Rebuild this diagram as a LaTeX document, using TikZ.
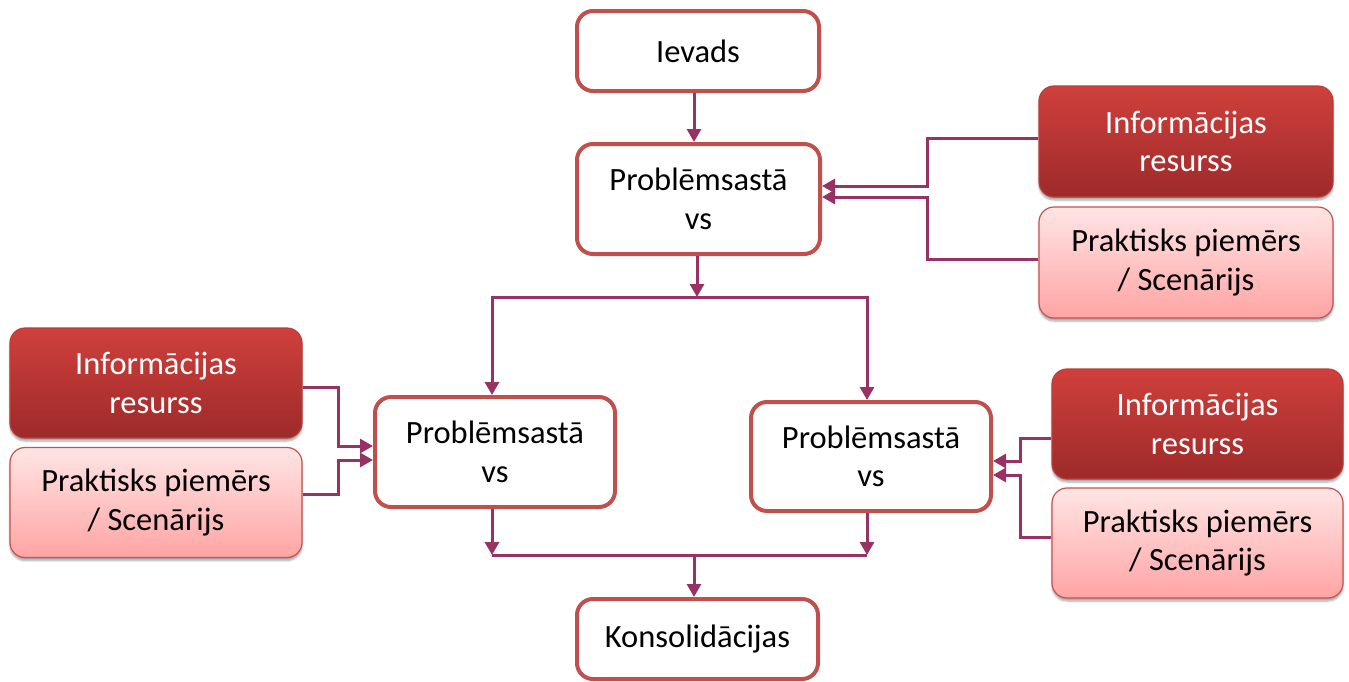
\documentclass[tikz,border=0pt]{standalone}
\usepackage{fontspec}
\setmainfont{Carlito}
\usetikzlibrary{arrows.meta,shadows.blur,calc}

\definecolor{frameRed}{RGB}{192,80,77}
\definecolor{linkPurple}{RGB}{153,50,100}
\definecolor{infoTop}{RGB}{207,64,60}
\definecolor{infoBottom}{RGB}{157,42,42}
\definecolor{infoEdge}{RGB}{185,62,58}
\definecolor{caseTop}{RGB}{255,229,229}
\definecolor{caseBottom}{RGB}{255,164,164}
\definecolor{caseEdge}{RGB}{200,82,78}

\tikzset{
  boxtext/.style={font=\fontsize{32.5}{38.5}\selectfont, align=center, inner sep=0pt},
  flowbox/.style={boxtext, draw=frameRed, line width=4pt, fill=white,
    rounded corners=16pt, text=black},
  infobox/.style={boxtext, draw=infoEdge, line width=1.2pt, rounded corners=15pt,
    top color=infoTop, bottom color=infoBottom, text=white,
    minimum width=292pt, minimum height=110pt,
    blur shadow={shadow xshift=0pt, shadow yshift=-3pt, shadow blur steps=6, shadow opacity=35}},
  casebox/.style={boxtext, draw=caseEdge, line width=1.2pt, rounded corners=15pt,
    top color=caseTop, bottom color=caseBottom, text=black,
    minimum width=292pt, minimum height=110pt,
    blur shadow={shadow xshift=0pt, shadow yshift=-3pt, shadow blur steps=6, shadow opacity=35}},
  link/.style={draw=linkPurple, line width=3pt},
  conn/.style={link, -{Triangle[length=13pt, width=14pt]}},
}

\begin{document}
\begin{tikzpicture}[x=1pt, y=-1pt]
\useasboundingbox (0,0) rectangle (1349,681);

% main flow boxes
\node[flowbox, minimum width=242pt, minimum height=80pt]  (iev) at (698,51)    {Ievads};
\node[flowbox, minimum width=243pt, minimum height=110pt] (p1)  at (698.5,199) {Problēmsastā\\vs};
\node[flowbox, minimum width=240pt, minimum height=110pt] (lp)  at (495,452)   {Problēmsastā\\vs};
\node[flowbox, minimum width=240pt, minimum height=109pt] (rp)  at (871,456.5) {Problēmsastā\\vs};
\node[flowbox, minimum width=241pt, minimum height=80pt]  (kon) at (697.5,639) {Konsolidācijas};

% resource and scenario boxes
\node[infobox, minimum width=294pt, minimum height=111pt] (tri) at (1186,141.5) {Informācijas\\resurss};
\node[casebox, minimum width=294pt, minimum height=111pt] (trp) at (1186,262.5) {Praktisks piemērs\\/ Scenārijs};
\node[infobox] (lin) at (156,383)     {Informācijas\\resurss};
\node[casebox] (lpr) at (156,502.5)   {Praktisks piemērs\\/ Scenārijs};
\node[infobox, minimum width=291pt] (rin) at (1197.5,424) {Informācijas\\resurss};
\node[casebox, minimum width=291pt] (rpr) at (1197.5,543) {Praktisks piemērs\\/ Scenārijs};

% branch and merge points
\coordinate (entry) at (694,0);
\coordinate (split) at (697,297);
\coordinate (join)  at (694,555);
\coordinate (sl) at ($(lp.north |- split)+(-3,0)$);
\coordinate (sr) at ($(rp.north |- split)+(-4,0)$);

% top of the flow
\draw[conn] (iev.south -| entry) -- (p1.north -| entry);
\draw[conn] (p1.south -| split) -- (split);
\draw[link, {Triangle[length=13pt, width=14pt]}-{Triangle[length=13pt, width=14pt]}, line join=miter]
  (sl |- lp.north) -- (sl) -- (sr) -- (sr |- rp.north);

% merge into consolidation
\draw[conn] (lp.south -| sl) -- (sl |- join);
\draw[conn] (rp.south -| sr) -- (sr |- join);
\draw[link] (sl |- join) -- (sr |- join);
\draw[conn] (join) -- (kon.north -| join);

% inputs to the upper case study
\draw[conn] ([yshift=3.5pt]tri.west) -- ++(-111,0) |- ([yshift=13pt]p1.east);
\draw[conn] ([yshift=3.5pt]trp.west) -- ++(-111,0) |- ([yshift=2pt]p1.east);

% inputs to the left case study
\draw[conn] ([yshift=-4pt]lin.east) -- ++(36,0) |- ([yshift=6pt]lp.west);
\draw[conn] ([yshift=8.5pt]lpr.east) -- ++(36,0) |- ([yshift=-8pt]lp.west);

% inputs to the right case study
\draw[conn] ([yshift=-14pt]rin.west) -- ++(-31,0) |- ([yshift=-4.5pt]rp.east);
\draw[conn] ([yshift=6pt]rpr.west) -- ++(-31,0) |- ([yshift=-18.5pt]rp.east);
\end{tikzpicture}
\end{document}
